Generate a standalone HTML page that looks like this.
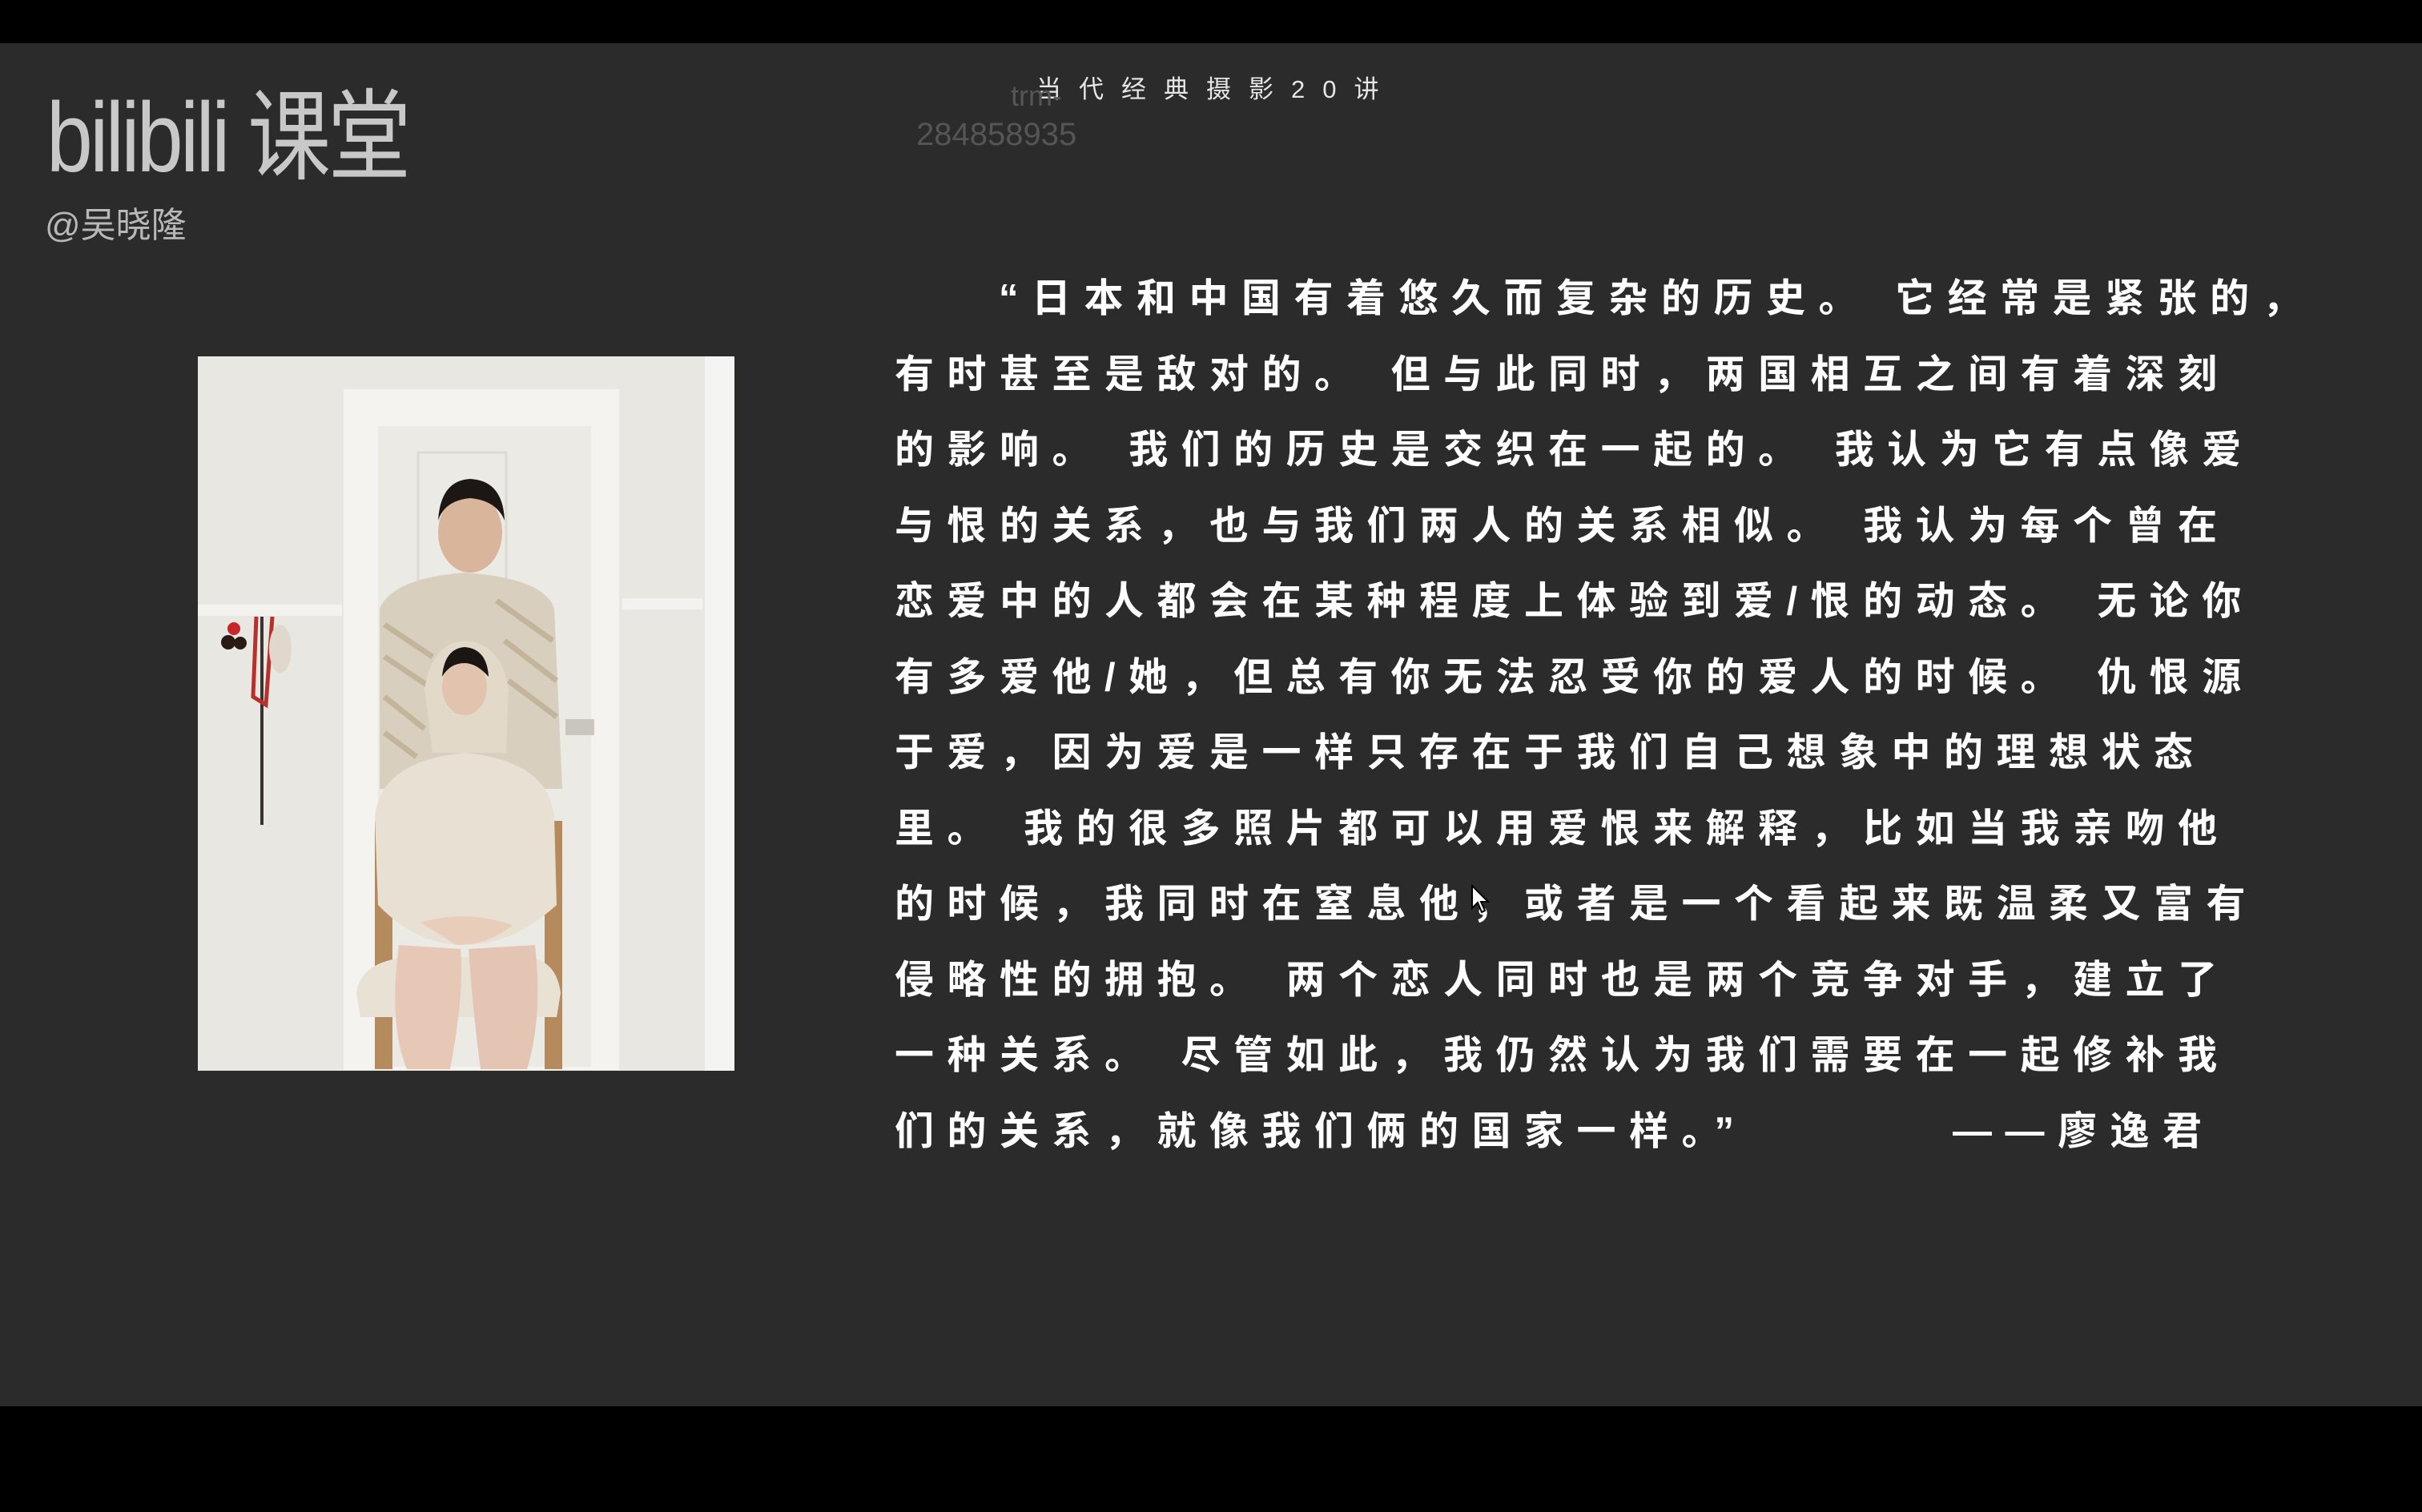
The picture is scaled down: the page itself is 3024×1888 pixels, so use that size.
<!DOCTYPE html>
<html><head><meta charset="utf-8">
<style>
html,body{margin:0;padding:0;}
body{width:3024px;height:1888px;background:#000;position:relative;overflow:hidden;font-family:"Liberation Sans","Noto Sans CJK SC",sans-serif;}
#stage{position:absolute;left:0;top:54px;width:3024px;height:1702px;background:#2b2b2b;}
.abs{position:absolute;white-space:nowrap;}
.line{position:absolute;left:1117px;font-family:"Liberation Sans","Noto Sans CJK SC",sans-serif;font-weight:700;font-size:49px;letter-spacing:16.5px;color:#fff;line-height:60px;white-space:pre;}
</style></head><body>
<div id="stage">
  <div class="abs" style="left:58px;top:50px;font-family:'Liberation Sans','Noto Sans CJK SC',sans-serif;font-size:118px;font-weight:400;color:#c8c8c8;letter-spacing:-4px;line-height:130px;transform:scale(0.88,1.05);transform-origin:left top;">bilibili 课堂</div>
  <div class="abs" style="left:56px;top:200px;font-size:44px;color:#b8b8b8;line-height:56px;">@吴晓隆</div>
  <div class="abs" style="left:1294px;top:38px;font-size:31px;color:#e6e6e6;letter-spacing:22px;line-height:40px;">当代经典摄影20讲</div>
  <div class="abs" style="left:1262px;top:46px;font-size:36px;color:#555;line-height:40px;">trm-</div>
  <div class="abs" style="left:1144px;top:90px;font-size:40px;color:#555;line-height:48px;">284858935</div>

  <svg class="abs" style="left:247px;top:391px;" width="670" height="892" viewBox="7 5 670 892">
    <rect x="0" y="0" width="700" height="900" fill="#e9e7e2"/>
    <rect x="640" y="0" width="40" height="900" fill="#f4f4f2"/>
    <rect x="7" y="315" width="180" height="14" fill="#f3f2ee"/>
    <rect x="537" y="307" width="100" height="14" fill="#f3f2ee"/>
    <rect x="189" y="46" width="344" height="850" fill="#f4f3ef"/>
    <rect x="232" y="92" width="266" height="800" fill="#eceae5"/>
    <rect x="282" y="125" width="110" height="180" fill="none" stroke="#dcdad4" stroke-width="3"/>
    <rect x="466" y="458" width="36" height="20" fill="#c9c6bd"/>
    <g>
      <circle cx="52" cy="345" r="8" fill="#c8242a"/><circle cx="45" cy="362" r="9" fill="#2a1a16"/><circle cx="60" cy="363" r="8" fill="#2a1a16"/>
      <line x1="87" y1="330" x2="87" y2="590" stroke="#3a3330" stroke-width="4"/>
      <path d="M80 330 L76 430 L92 440 L100 330" fill="none" stroke="#b8302c" stroke-width="5"/>
      <ellipse cx="110" cy="370" rx="14" ry="30" fill="#e0d8cc"/>
    </g>
    <rect x="228" y="585" width="22" height="310" fill="#b58a5c"/>
    <rect x="440" y="585" width="22" height="310" fill="#b58a5c"/>
    <path d="M234 320 Q250 282 340 275 Q440 282 452 320 L462 545 L234 545 Z" fill="#d9cfbf"/>
    <g stroke="#bba98e" stroke-width="7" opacity="0.7">
      <line x1="240" y1="340" x2="300" y2="380"/><line x1="240" y1="380" x2="300" y2="420"/><line x1="380" y1="310" x2="450" y2="360"/><line x1="390" y1="360" x2="455" y2="410"/><line x1="395" y1="410" x2="455" y2="455"/><line x1="240" y1="430" x2="290" y2="470"/><line x1="240" y1="475" x2="280" y2="505"/>
    </g>
    <ellipse cx="347" cy="225" rx="40" ry="50" fill="#d9b59c"/>
    <path d="M307 210 Q310 160 347 158 Q388 160 390 210 Q380 185 347 182 Q315 185 307 210Z" fill="#1c1714"/>
    <path d="M290 420 Q300 362 340 360 Q385 362 395 420 L392 500 L300 500 Z" fill="#e3d9c9"/>
    <ellipse cx="340" cy="418" rx="28" ry="35" fill="#e2c3ae"/>
    <path d="M312 405 Q315 370 340 368 Q368 370 370 405 Q355 388 340 388 Q322 388 312 405Z" fill="#1b1614"/>
    <path d="M228 580 Q235 510 340 500 Q445 510 452 580 L455 690 Q400 740 340 740 Q280 740 232 690 Z" fill="#e8e0d3"/>
    <path d="M205 800 Q210 760 270 755 L420 755 Q455 760 460 800 L455 830 L210 830Z" fill="#e7e2d4"/>
    <path d="M258 740 Q245 840 268 895 L322 895 Q340 800 335 745 Z" fill="#e7c8b6"/>
    <path d="M345 745 Q350 820 360 895 L418 895 Q438 830 428 740 Z" fill="#e4c4b2"/>
    <path d="M285 712 Q340 695 400 715 Q370 740 330 740Z" fill="#e9cdbb"/>
  </svg>

  <div class="line" style="left:1247px;top:289px;">“日本和中国有着悠久而复杂的历史。 它经常是紧张的，</div>
  <div class="line" style="top:384px;">有时甚至是敌对的。 但与此同时，两国相互之间有着深刻</div>
  <div class="line" style="top:478px;">的影响。 我们的历史是交织在一起的。 我认为它有点像爱</div>
  <div class="line" style="top:573px;">与恨的关系，也与我们两人的关系相似。 我认为每个曾在</div>
  <div class="line" style="top:667px;">恋爱中的人都会在某种程度上体验到爱/恨的动态。 无论你</div>
  <div class="line" style="top:762px;">有多爱他/她，但总有你无法忍受你的爱人的时候。 仇恨源</div>
  <div class="line" style="top:856px;">于爱，因为爱是一样只存在于我们自己想象中的理想状态</div>
  <div class="line" style="top:951px;">里。 我的很多照片都可以用爱恨来解释，比如当我亲吻他</div>
  <div class="line" style="top:1045px;">的时候，我同时在窒息他，或者是一个看起来既温柔又富有</div>
  <div class="line" style="top:1140px;">侵略性的拥抱。 两个恋人同时也是两个竞争对手，建立了</div>
  <div class="line" style="top:1234px;">一种关系。 尽管如此，我仍然认为我们需要在一起修补我</div>
  <div class="line" style="top:1329px;">们的关系，就像我们俩的国家一样。”</div>
  <div class="line" style="left:2438px;top:1329px;">——廖逸君</div>
  <svg class="abs" style="left:1836px;top:1050px;" width="26" height="40" viewBox="0 0 26 40"><path d="M2 2 L2 30 L9 23 L14 35 L18 33 L13 22 L22 22 Z" fill="#fff" stroke="#000" stroke-width="2"/></svg>
</div>
</body></html>
